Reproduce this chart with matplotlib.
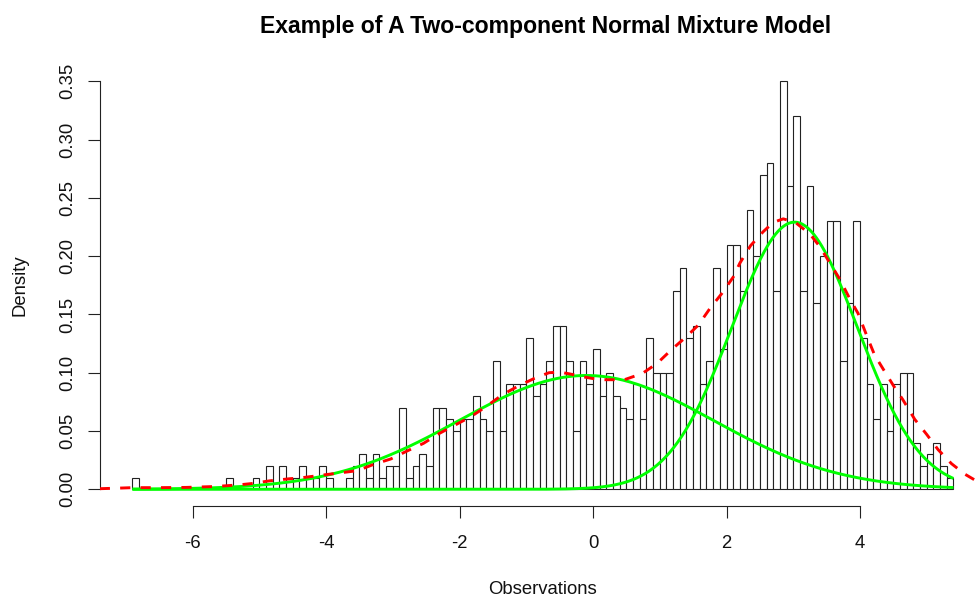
import numpy as np
import matplotlib
matplotlib.use("Agg")
import matplotlib.pyplot as plt

plt.rcParams["font.family"] = ["Liberation Sans", "DejaVu Sans"]

# ---------------- data ----------------
title = "Example of A Two-component Normal Mixture Model"
x_label = "Observations"
y_label = "Density"

bin_start = -6.9
bin_width = 0.1
n_obs = 1000
# observation counts per 0.1-wide bin, from -6.9 up to 5.4
counts = [
    1,                                      # -6.9
    0, 0, 0, 0, 0, 0, 0, 0, 0, 0, 0, 0, 0,  # -6.8 .. -5.6
    1, 0, 0, 0, 1, 0, 2, 0, 2, 1, 1, 2, 1, 1, 2, 1, 0, 0,  # -5.5 .. -3.8
    1, 2, 3, 1, 3, 1, 2, 2,                 # -3.7 .. -3.0
    7, 1, 2, 3, 2, 7, 7, 6, 5, 6,           # -2.9 .. -2.0
    6, 8, 6, 5, 11, 5, 9, 9, 9, 13,         # -1.9 .. -1.0
    8, 9, 11, 14, 14, 11, 5, 11, 9, 12,     # -0.9 .. 0.0
    8, 10, 8, 7, 6, 9, 6, 13, 10, 10,       # 0.1 .. 1.0
    10, 17, 19, 13, 14, 9, 11, 19, 12, 21,  # 1.1 .. 2.0
    21, 17, 24, 20, 27, 28, 17, 35, 26, 32, # 2.1 .. 3.0
    17, 26, 16, 20, 23, 23, 11, 16, 23, 13, # 3.1 .. 4.0
    9, 6, 9, 5, 9, 10, 10, 4, 2, 3,         # 4.1 .. 5.0
    4, 2, 1,                                # 5.1 .. 5.3
]

# fitted normal components (weight, mean, sd)
comp_weight = [0.465, 0.54]
comp_mean = [-0.10, 3.02]
comp_sd = [1.90, 0.94]

# kernel density estimate of the observations (red dashed)
kde_x = [-7.39, -7.1, -6.9, -6.5, -6.1, -5.7, -5.5, -5.3, -5.1, -4.85, -4.55,
         -4.35, -4.08, -3.8, -3.53, -3.28, -3.03, -2.78, -2.54, -2.30, -2.07,
         -1.83, -1.60, -1.36, -1.12, -0.88, -0.66, -0.50, -0.35, -0.15, 0.0,
         0.15, 0.47, 0.74, 0.96, 1.18, 1.40, 1.58, 1.75, 1.93, 2.10, 2.20,
         2.36, 2.55, 2.70, 2.85, 3.03, 3.25, 3.40, 3.55, 3.70, 3.85, 3.97,
         4.12, 4.22, 4.37, 4.50, 4.64, 4.82, 5.00, 5.17, 5.37, 5.57, 5.76, 5.90]
kde_y = [0.0005, 0.0010, 0.0014, 0.0014, 0.0016, 0.0023, 0.0030, 0.0038, 0.0050,
         0.0072, 0.0090, 0.0100, 0.0120, 0.0140, 0.0160, 0.0215, 0.0260, 0.0330,
         0.0394, 0.0480, 0.0550, 0.0623, 0.0710, 0.0810, 0.0886, 0.0951, 0.1000,
         0.1005, 0.0990, 0.0965, 0.0950, 0.0940, 0.0940, 0.0994, 0.1080, 0.1200,
         0.1310, 0.1410, 0.1550, 0.1680, 0.1820, 0.1940, 0.2090, 0.2210, 0.2290,
         0.2320, 0.2290, 0.2190, 0.2080, 0.1940, 0.1800, 0.1630, 0.1510, 0.1290,
         0.1150, 0.1010, 0.0890, 0.0770, 0.0600, 0.0470, 0.0340, 0.0220, 0.0130,
         0.0066, 0.0040]

x_ticks = [-6, -4, -2, 0, 2, 4]
y_ticks = [0.00, 0.05, 0.10, 0.15, 0.20, 0.25, 0.30, 0.35]

# ---------------- derived ----------------
counts = np.asarray(counts, dtype=float)
lefts = bin_start + bin_width * np.arange(len(counts))
density = counts / (n_obs * bin_width)
data_lo, data_hi = lefts[0], lefts[-1] + bin_width

# ---------------- figure ----------------
W, H = 979, 600
fig = plt.figure(figsize=(W / 100, H / 100), dpi=100)
ax_left, ax_right = 99.6, 986.3
ax_top, ax_bottom = 65.0, 505.6
ax = fig.add_axes([ax_left / W, 1 - ax_bottom / H,
                   (ax_right - ax_left) / W, (ax_bottom - ax_top) / H])

span = data_hi - data_lo
ax.set_xlim(data_lo - 0.04 * span, data_hi + 0.04 * span)
ymax = density.max()
ax.set_ylim(-0.04 * ymax, ymax * 1.04)

ax.bar(lefts, density, width=bin_width, align="edge", facecolor="white",
       edgecolor="#222222", linewidth=0.8, zorder=2)

xs = np.linspace(data_lo, data_hi, 600)
for w, m, s in zip(comp_weight, comp_mean, comp_sd):
    ys = w / (s * np.sqrt(2 * np.pi)) * np.exp(-0.5 * ((xs - m) / s) ** 2)
    ax.plot(xs, ys, color="#00FF00", linewidth=2.1, zorder=3,
            solid_capstyle="butt")

ax.plot(kde_x, kde_y, color="#FF0000", linewidth=2.1, dashes=(3.5, 3.5),
        zorder=4, dash_capstyle="butt")

for side in ("top", "right"):
    ax.spines[side].set_visible(False)
ax.spines["left"].set_bounds(y_ticks[0], y_ticks[-1])
ax.spines["bottom"].set_bounds(x_ticks[0], x_ticks[-1])
for side in ("left", "bottom"):
    ax.spines[side].set_linewidth(0.8)
    ax.spines[side].set_color("#222222")

ax.set_xticks(x_ticks)
ax.set_xticklabels([f"{t:d}" for t in x_ticks])
ax.set_yticks(y_ticks)
ax.set_yticklabels([f"{t:.2f}" for t in y_ticks], rotation=90, va="center")
ax.tick_params(axis="both", direction="out", length=8.6, width=0.8,
               color="#222222", labelsize=13.3, labelcolor="#111111")
ax.tick_params(axis="x", pad=12.5)
ax.tick_params(axis="y", pad=8.0)

cx = (ax_left + ax_right) / 2 / W
fig.text(cx + 2.5 / W, 1 - 32.5 / H, title, ha="center", va="baseline",
         fontsize=16.6, fontweight="bold", color="black")
fig.text(cx, 1 - 594.5 / H, x_label, ha="center", va="baseline",
         fontsize=13.3, color="#111111")
fig.text(20 / W, 1 - 285.3 / H, y_label, ha="center", va="center",
         rotation=90, fontsize=13.3, color="#111111")

fig.savefig("out.png", dpi=100)
